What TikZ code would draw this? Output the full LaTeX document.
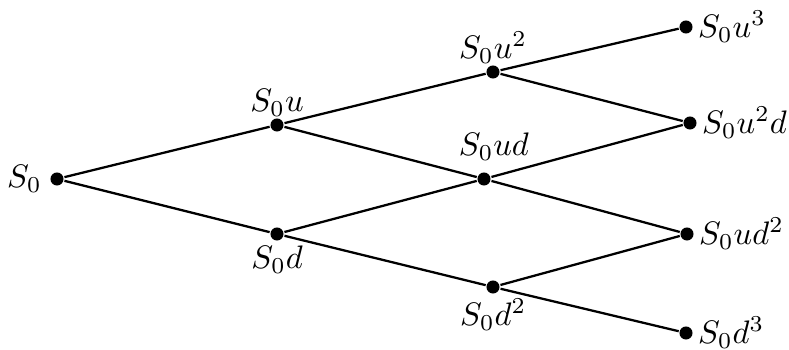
\documentclass[tikz,border=0pt]{standalone}
\usepackage{amsmath}
\usepackage{tikz}

\begin{document}
\begin{tikzpicture}[scale=1.08,
  dot/.style={circle,fill,inner sep=0pt,minimum size=4pt},
  every label/.style={inner sep=1pt},
  line width=.7pt]
\useasboundingbox (0,0) rectangle (7.89,3.5);
\node[dot,label={[label distance=1pt]left:$S_0$}] (s) at (0.57,1.71) {};
\node[dot,label={[label distance=-1pt]above:$S_0u$}] (u) at (2.77,2.25) {};
\node[dot,label={[label distance=0pt]below:$S_0d$}] (d) at (2.77,1.16) {};
\node[dot,label={[label distance=-1pt]above:$S_0u^2$}] (uu) at (4.93,2.78) {};
\node[dot,label={[label distance=2pt,xshift=3pt]above:$S_0ud$}] (ud) at (4.84,1.71) {};
\node[dot,label={[label distance=0pt]below:$S_0d^2$}] (dd) at (4.93,0.63) {};
\node[dot,label={[label distance=0pt]right:$S_0u^3$}] (uuu) at (6.86,3.23) {};
\node[dot,label={[label distance=0pt]right:$S_0u^2d$}] (uud) at (6.90,2.27) {};
\node[dot,label={[label distance=0pt]right:$S_0ud^2$}] (udd) at (6.87,1.16) {};
\node[dot,label={[label distance=0pt]right:$S_0d^3$}] (ddd) at (6.86,0.17) {};
\draw (s) -- (u);
\draw (s) -- (d);
\draw (u) -- (uu);
\draw (u) -- (ud);
\draw (d) -- (ud);
\draw (d) -- (dd);
\draw (uu) -- (uuu);
\draw (uu) -- (uud);
\draw (ud) -- (uud);
\draw (ud) -- (udd);
\draw (dd) -- (udd);
\draw (dd) -- (ddd);
\end{tikzpicture}
\end{document}
